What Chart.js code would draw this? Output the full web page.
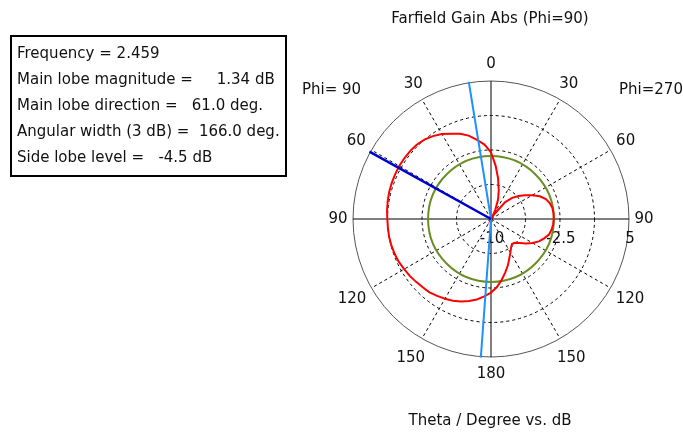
<!DOCTYPE html>
<html>
<head>
<meta charset="utf-8">
<title>Farfield Gain Abs (Phi=90)</title>
<script src="https://cdn.jsdelivr.net/npm/chart.js@4"></script>
<style>
  body { margin: 0; background: #fff; font-family: "DejaVu Sans", sans-serif; color: #111; }
  #wrap { position: relative; width: 683px; height: 434px; overflow: hidden; }
  #plot { position: absolute; left: 0; top: 0; width: 683px; height: 434px; }
  .txt { position: absolute; font-size: 15px; line-height: 18px; white-space: pre; }
  #info {
    position: absolute; left: 10px; top: 35px; width: 277px; height: 142px;
    box-sizing: border-box; border: 2px solid #000; padding: 3px 0 0 5px;
    font-size: 15px; line-height: 26px; white-space: pre;
  }
</style>
</head>
<body>
<div id="wrap">
  <div id="plot"><canvas id="polarChart"></canvas></div>
  <div id="info">Frequency = 2.459
Main lobe magnitude =     1.34 dB
Main lobe direction =   61.0 deg.
Angular width (3 dB) =  166.0 deg.
Side lobe level =   -4.5 dB</div>
  <div class="txt" style="left:290px; top:9px; width:400px; text-align:center;">Farfield Gain Abs (Phi=90)</div>
  <div class="txt" style="left:302px; top:80px;">Phi= 90</div>
  <div class="txt" style="left:619px; top:80px;">Phi=270</div>
  <div class="txt" style="left:290px; top:411px; width:400px; text-align:center;">Theta / Degree vs. dB</div>
</div>
<script>
// 세타 5도 간격, 0..180
const thetaStep = 5;
// Phi=270 쪽 (오른쪽) 이득 dB, theta = 0,5,...,180
const gainPhi270 = [-2.75, -4.2, -5.55, -6.75, -7.75, -8.9, -9.8, -9.3, -7.6, -6.75,
  -6.1, -5.5, -4.85, -4.15, -3.65, -3.37, -3.22, -3.17, -3.18, -3.22,
  -3.32, -3.47, -3.85, -4.25, -4.8, -5.35, -5.95, -6.35, -6.45, -6.2,
  -5.78, -5.29, -4.64, -3.99, -3.29, -2.58, -2.0];
// Phi=90 쪽 (왼쪽) 이득 dB, theta = 0,5,...,180
const gainPhi90 = [-2.75, -1.88, -1.26, -0.62, -0.14, 0.23, 0.68, 1.0, 1.26, 1.42,
  1.48, 1.5, 1.52, 1.5, 1.48, 1.45, 1.4, 1.34, 1.27, 1.25,
  1.24, 1.2, 1.14, 1.05, 0.9, 0.78, 0.63, 0.5, 0.4, 0.2,
  0.0, -0.2, -0.45, -0.78, -1.12, -1.55, -2.0];

const radialTicks = [-10, -2.5, 5];        // 반경 눈금 라벨
const mainLobeDir = 61.0;                  // Phi=90 쪽 theta
const beamEdges = [9.2, 175.8];            // 3 dB 폭 경계 (Phi=90 쪽 theta)
const mainLobeMag = 1.34;
const sideLobeRel = -4.5;
const sideLobeDb = mainLobeMag + sideLobeRel;

// 레이더 라벨: 위쪽에서 시계방향 (오른쪽 0→180, 왼쪽 175→5)
const labels = [];
for (let i = 0; i < 360 / thetaStep; i++) {
  const a = i * thetaStep;
  labels.push(String(a <= 180 ? a : 360 - a));
}
const gain = gainPhi270.concat(gainPhi90.slice(1, gainPhi90.length - 1).reverse());

function idxPhi90(theta) { return (360 - theta) / thetaStep; }

const polarDecor = {
  id: 'polarDecor',
  beforeDatasetsDraw(chart) {
    const s = chart.scales.r;
    const ctx = chart.ctx;
    ctx.save();
    ctx.font = '15px "DejaVu Sans"';
    ctx.fillStyle = '#111';
    ctx.textAlign = 'center';
    ctx.textBaseline = 'middle';
    // 각도 라벨 (30도마다)
    labels.forEach((lab, i) => {
      if ((i * thetaStep) % 30 !== 0) return;
      let off = 17.5;
      if (lab === '90') off = 15;
      else if (lab.length === 3 && lab !== '180') off = 22.5;
      else if (lab === '0' || lab === '180') off = 17;
      const p = s.getPointPosition(i, s.drawingArea + off);
      ctx.fillText(lab, p.x, p.y);
    });
    // 반경 눈금 라벨
    radialTicks.forEach(v => {
      const d = s.getDistanceFromCenterForValue(v);
      ctx.fillText(String(v), s.xCenter + d + 1, s.yCenter + 20);
    });
    // 사이드 로브 레벨 원
    ctx.strokeStyle = '#6b8e23';
    ctx.lineWidth = 2;
    ctx.beginPath();
    ctx.arc(s.xCenter, s.yCenter, s.getDistanceFromCenterForValue(sideLobeDb), 0, Math.PI * 2);
    ctx.stroke();
    ctx.restore();
  },
  afterDatasetsDraw(chart) {
    const s = chart.scales.r;
    const ctx = chart.ctx;
    const ray = (theta, color, w) => {
      const p = s.getPointPosition(idxPhi90(theta), s.drawingArea + 1);
      ctx.strokeStyle = color;
      ctx.lineWidth = w;
      ctx.beginPath();
      ctx.moveTo(s.xCenter, s.yCenter);
      ctx.lineTo(p.x, p.y);
      ctx.stroke();
    };
    ctx.save();
    beamEdges.forEach(t => ray(t, '#1e90ff', 2));
    ray(mainLobeDir, '#0000cd', 2.5);
    ctx.restore();
  }
};

new Chart(document.getElementById('polarChart'), {
  type: 'radar',
  data: {
    labels: labels,
    datasets: [{
      label: 'Farfield Gain Abs',
      data: gain,
      borderColor: '#ff0000',
      borderWidth: 2,
      pointRadius: 0,
      fill: false,
      tension: 0
    }]
  },
  options: {
    responsive: true,
    maintainAspectRatio: false,
    animation: false,
    events: [],
    layout: { padding: { left: 353, right: 53, top: 81, bottom: 76 } },
    plugins: { legend: { display: false }, tooltip: { enabled: false } },
    scales: {
      r: {
        min: -10,
        max: 5,
        ticks: { display: false, stepSize: 3.75 },
        pointLabels: { display: false },
        grid: {
          circular: true,
          color: c => c.index === 4 ? '#555' : '#000',
          lineWidth: 1
        },
        border: { dash: c => c.index === 4 ? [] : [3, 3] },
        angleLines: {
          color: '#000',
          lineWidth: c => c.index % 6 === 0 ? 1 : 0,
          borderDash: c => c.index % 18 === 0 ? [] : [3, 3]
        }
      }
    }
  },
  plugins: [polarDecor]
});
</script>
</body>
</html>
